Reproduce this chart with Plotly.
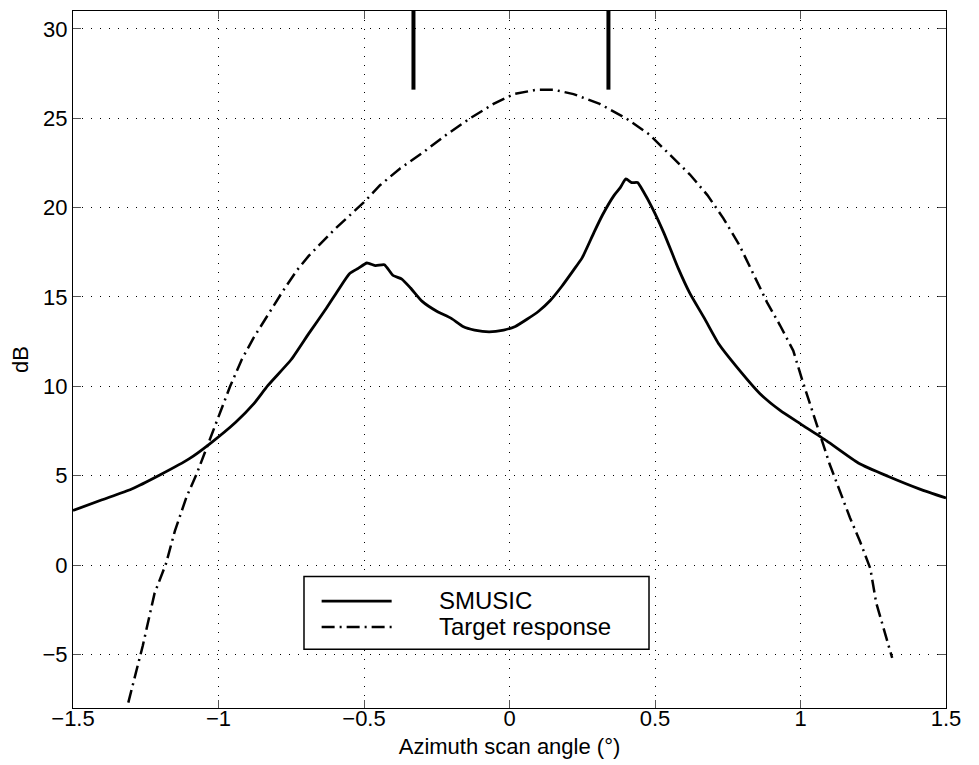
import plotly.graph_objects as go

# SMUSIC spectrum (dB)
smusic_x = [-1.5, -1.4, -1.3, -1.2, -1.1, -1.03, -0.94, -0.88, -0.83, -0.75,
            -0.69, -0.63, -0.59, -0.55, -0.52, -0.49, -0.46, -0.43, -0.40, -0.37,
            -0.34, -0.30, -0.25, -0.20, -0.16, -0.12, -0.07, -0.02, 0.02, 0.06,
            0.10, 0.14, 0.18, 0.22, 0.25, 0.29, 0.32, 0.36, 0.38, 0.40,
            0.42, 0.44, 0.46, 0.49, 0.53, 0.56, 0.58, 0.62, 0.67, 0.72,
            0.78, 0.86, 0.93, 1.0, 1.09, 1.2, 1.3, 1.41, 1.5]
smusic_db = [3.05, 3.65, 4.24, 5.05, 5.95, 6.78, 8.0, 9.0, 10.05, 11.5,
             12.95, 14.35, 15.35, 16.3, 16.6, 16.9, 16.75, 16.8, 16.2, 16.0,
             15.5, 14.75, 14.2, 13.8, 13.35, 13.15, 13.05, 13.15, 13.35, 13.75,
             14.2, 14.8, 15.6, 16.5, 17.2, 18.6, 19.6, 20.7, 21.1, 21.6,
             21.4, 21.4, 20.9, 20.0, 18.6, 17.4, 16.6, 15.2, 13.8, 12.35,
             11.1, 9.6, 8.65, 7.9, 6.95, 5.7, 4.97, 4.25, 3.75]

# target response (dB)
target_x = [-1.31, -1.26, -1.22, -1.18, -1.15, -1.11, -1.075, -1.03, -0.995, -0.96,
            -0.92, -0.88, -0.83, -0.78, -0.73, -0.69, -0.6, -0.5, -0.445, -0.375,
            -0.3, -0.215, -0.135, -0.055, 0.015, 0.095, 0.15, 0.22, 0.31, 0.40,
            0.48, 0.55, 0.62, 0.68, 0.735, 0.79, 0.84, 0.885, 0.93, 0.975,
            1.005, 1.035, 1.07, 1.10, 1.135, 1.17, 1.205, 1.24, 1.26, 1.285, 1.315]
target_db = [-7.7, -4.5, -1.6, 0.1, 1.9, 3.8, 5.1, 7.0, 8.5, 10.0,
             11.5, 12.7, 14.0, 15.3, 16.5, 17.3, 18.8, 20.3, 21.25, 22.2,
             23.05, 24.1, 25.0, 25.8, 26.35, 26.6, 26.6, 26.35, 25.8, 25.0,
             24.1, 23.0, 21.85, 20.7, 19.4, 17.9, 16.2, 14.7, 13.4, 12.0,
             10.4, 8.85, 7.15, 5.65, 4.15, 2.65, 1.3, -0.2, -2.1, -3.5, -5.2]

# true source directions, drawn as bars hanging from the top
source_x = [-0.33, 0.34]
source_lo = 26.6
source_hi = 31

FONT = "Liberation Sans"
DASHDOT = "13px,5px,2px,5px"

fig = go.Figure()
fig.add_trace(go.Scatter(x=smusic_x, y=smusic_db, mode="lines", name="SMUSIC",
                         line=dict(color="black", width=2.8, shape="spline", smoothing=0.5),
                         showlegend=False))
fig.add_trace(go.Scatter(x=target_x, y=target_db, mode="lines", name="Target response",
                         line=dict(color="black", width=2.5, dash=DASHDOT), showlegend=False))
for sx in source_x:
    fig.add_trace(go.Scatter(x=[sx, sx], y=[source_lo, source_hi], mode="lines",
                             line=dict(color="black", width=4), showlegend=False,
                             hoverinfo="skip"))

axis_common = dict(
    showline=True, linecolor="black", linewidth=1, mirror="ticks",
    ticks="inside", ticklen=8, tickcolor="#555", tickwidth=1,
    showgrid=True, gridcolor="black", gridwidth=1, griddash="1px,8px",
    zeroline=False, automargin=False,
    tickfont=dict(family=FONT, size=22, color="black"),
)
fig.update_xaxes(range=[-1.5, 1.5], tick0=-1.5, dtick=0.5, ticklabelstandoff=-9,
                 title=dict(text="Azimuth scan angle (°)", font=dict(family=FONT, size=22),
                            standoff=8),
                 **axis_common)
fig.update_yaxes(range=[-8, 31], tick0=-5, dtick=5,
                 title=dict(text="dB", font=dict(family=FONT, size=22), standoff=8),
                 **axis_common)

# hand-drawn legend box to match the original layout
fig.add_shape(type="rect", xref="paper", yref="paper", x0=0.2646, x1=0.6598,
              y0=0.0842, y1=0.1887, line=dict(color="black", width=1.5),
              fillcolor="white", layer="above")
fig.add_shape(type="line", xref="paper", yref="paper", x0=0.2848, x1=0.3650,
              y0=0.1534, y1=0.1534, line=dict(color="black", width=2.8), layer="above")
fig.add_shape(type="line", xref="paper", yref="paper", x0=0.2848, x1=0.3650,
              y0=0.1161, y1=0.1161, line=dict(color="black", width=2.5, dash=DASHDOT),
              layer="above")
fig.add_annotation(xref="paper", yref="paper", x=0.4166, y=0.1543, text="SMUSIC",
                   showarrow=False, xanchor="left", yanchor="middle",
                   font=dict(family=FONT, size=24, color="black"))
fig.add_annotation(xref="paper", yref="paper", x=0.4166, y=0.1165, text="Target response",
                   showarrow=False, xanchor="left", yanchor="middle",
                   font=dict(family=FONT, size=24, color="black"))

# page body adds an 8px margin, so the figure is 8px smaller and margins shifted
fig.update_layout(
    width=971, height=757,
    margin=dict(l=65, r=33, t=3, b=57),
    plot_bgcolor="white", paper_bgcolor="white",
    font=dict(family=FONT, color="black"),
)

fig.write_html("out.html")
